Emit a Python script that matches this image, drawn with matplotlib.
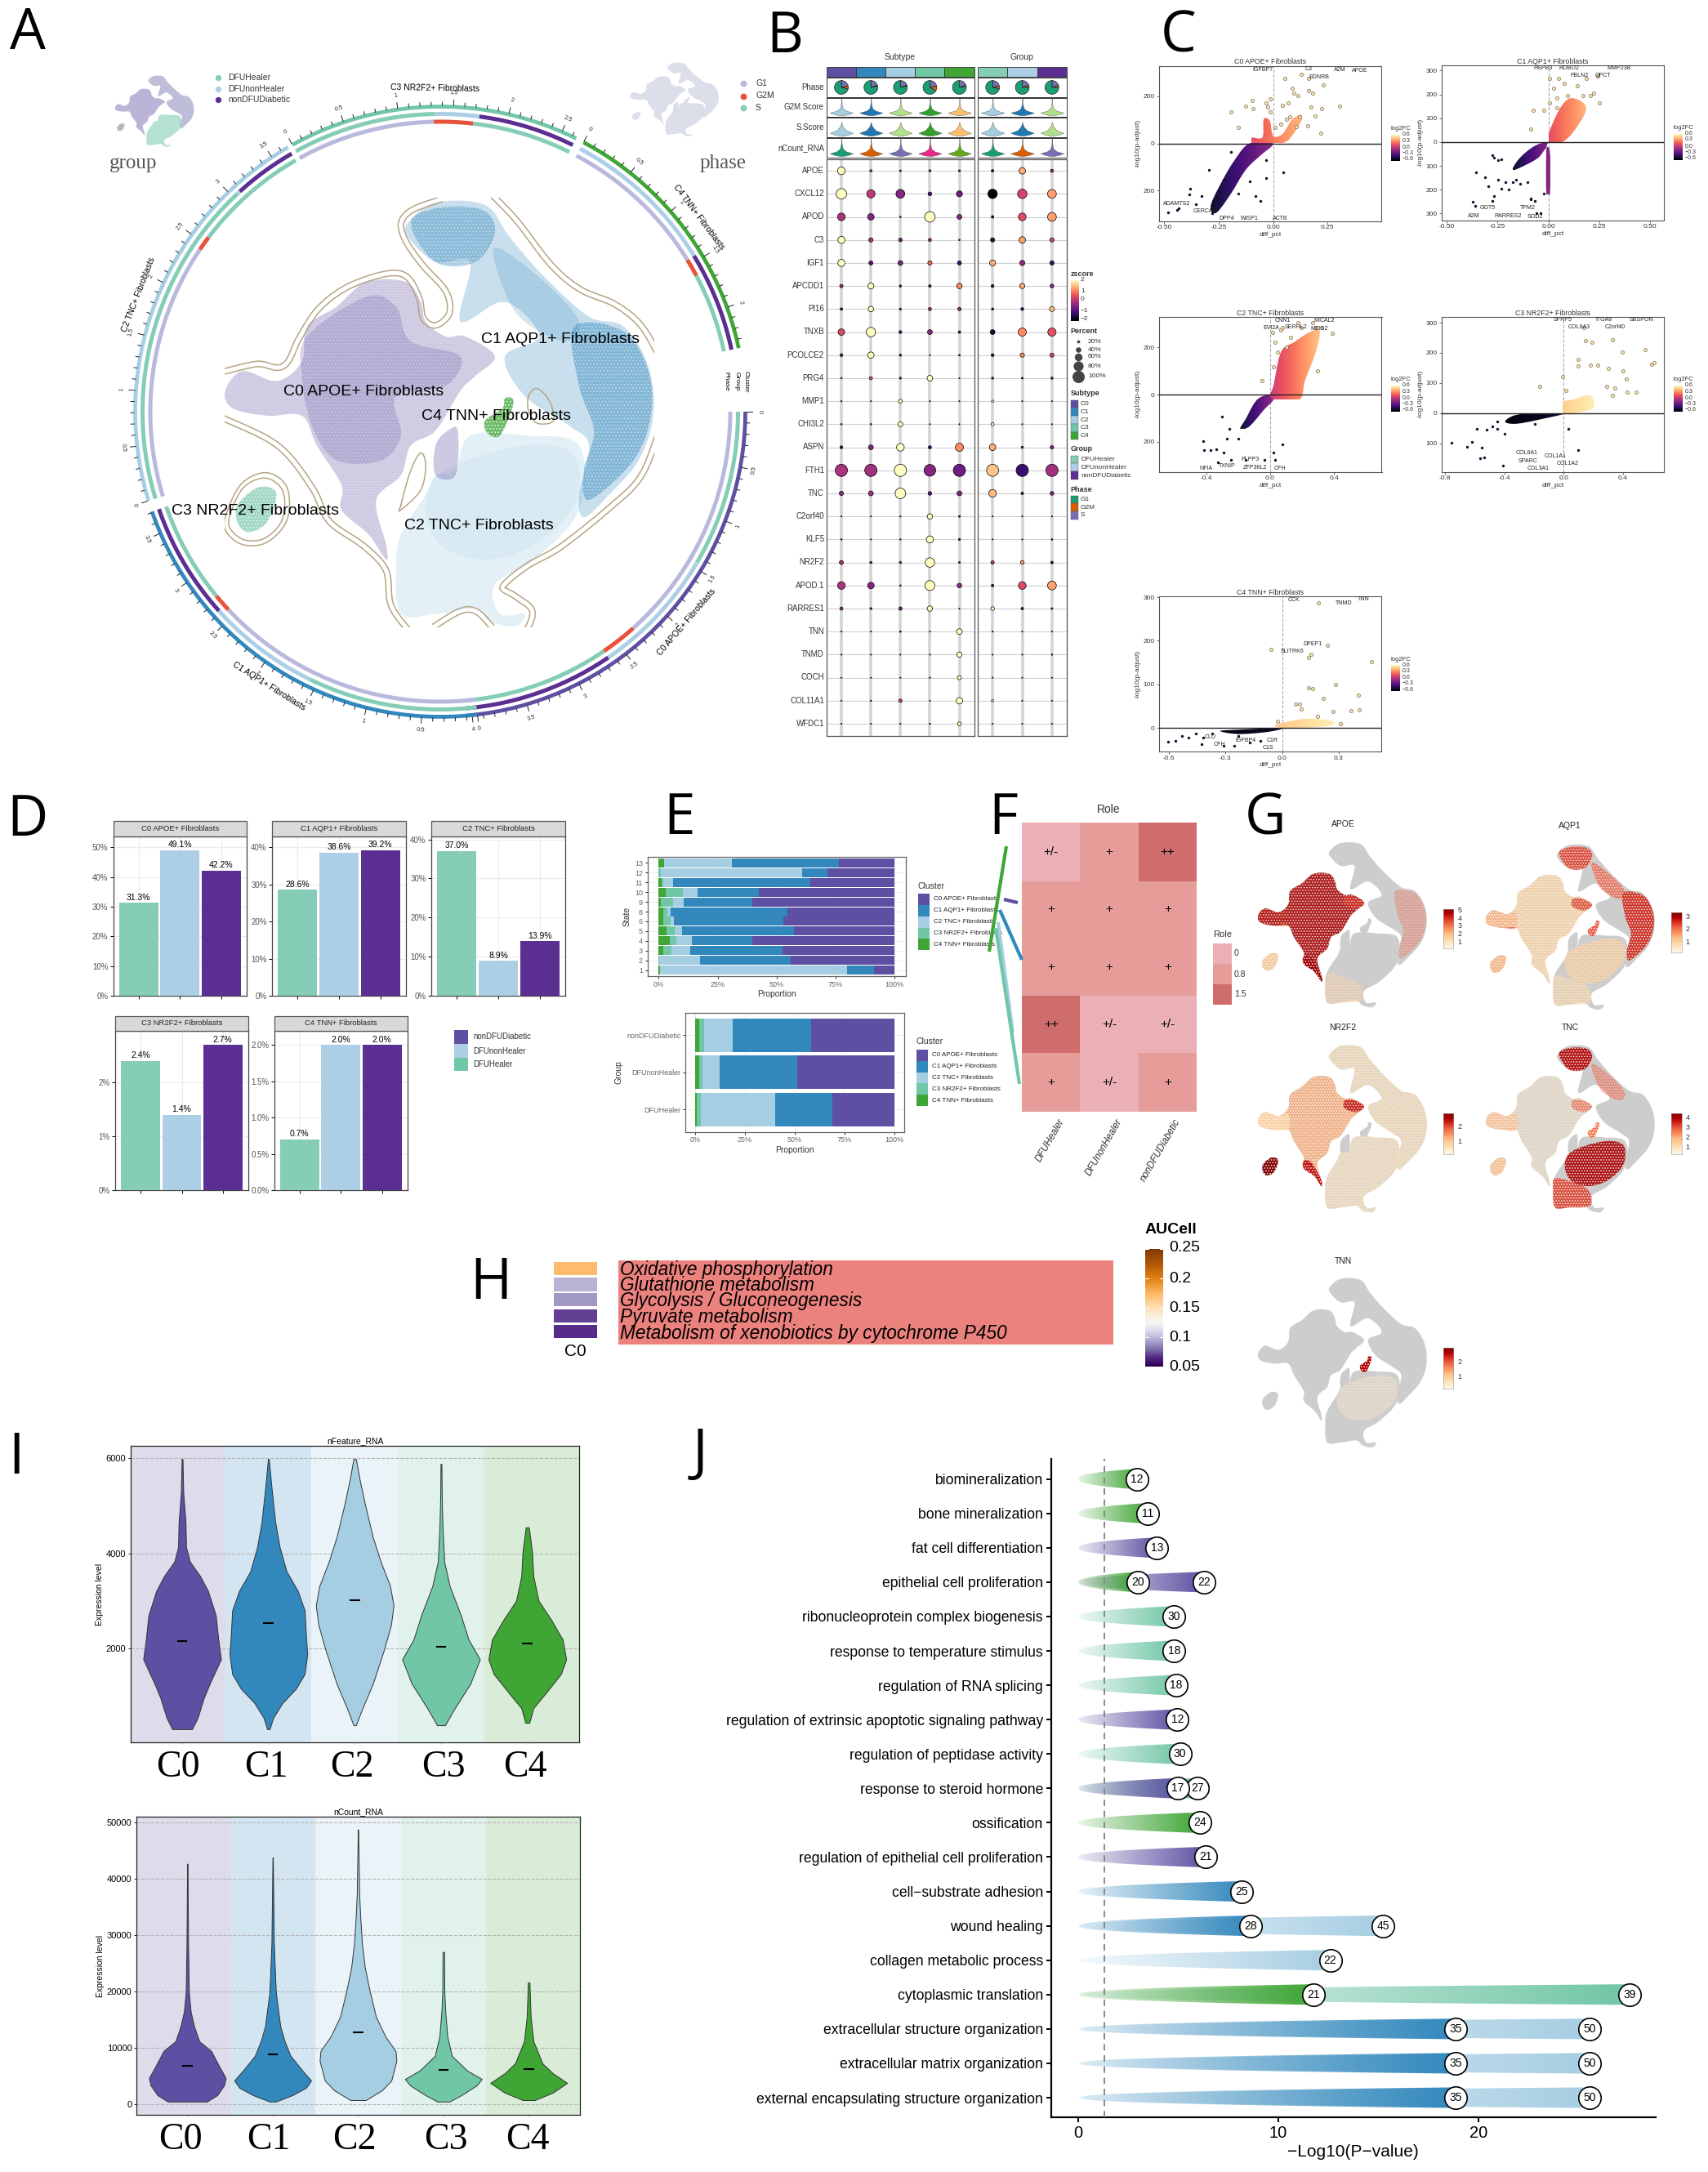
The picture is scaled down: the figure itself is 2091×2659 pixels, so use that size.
import numpy as np
import matplotlib
matplotlib.use('Agg')
import matplotlib.pyplot as plt
from matplotlib.patches import Polygon, PathPatch, Rectangle
from matplotlib.path import Path
from matplotlib.colors import TwoSlopeNorm, LinearSegmentedColormap, ListedColormap

plt.rcParams['font.family'] = ['Liberation Sans', 'DejaVu Sans']
plt.rcParams['hatch.linewidth'] = 0.7
plt.rcParams['axes.unicode_minus'] = True

W, H = 2091, 2659
C_COL = ['#5E4FA2', '#3288BD', '#A6CEE3', '#70C6A5', '#3FA535']
G_COL = ['#85CDB7', '#ADCFE5', '#5B2E91']
P_COL = ['#B8B9DC', '#E8513A', '#85CDB7']
CLUSTERS = ['C0 APOE+ Fibroblasts', 'C1 AQP1+ Fibroblasts', 'C2 TNC+ Fibroblasts',
            'C3 NR2F2+ Fibroblasts', 'C4 TNN+ Fibroblasts']
GROUPS = ['DFUHealer', 'DFUnonHealer', 'nonDFUDiabetic']

# ---------- Panel A data: ring tracks (thousand cells)
SEC_START = [0, -83, 197, 119, 62]
SEC_LEN = [4.05, 3.71, 3.67, 2.64, 2.38]
SEC_TICKMAX = [3.5, 3.5, 3.5, 2.5, 2.0]
PHASE_EDGES = [[0, 2.3, 2.65, 4.05], [0, 2.57, 2.74, 3.71], [0, 2.43, 2.57, 3.67], [0, 1.32, 1.69, 2.64], [0, 1.45, 1.62, 2.38]]
GROUP_EDGES = [[0, 1.45, 2.65, 4.05], [0, 1.57, 2.62, 3.71], [0, 3.05, 3.08, 3.67], [0, 1.33, 1.74, 2.64], [0, 0, 1.45, 2.38]]
SEC_LABEL_ANG = [-40.5, -122, 158.8, 91, 37]
SEC_LABEL_ROT = [49.5, -32, 69, -1, -53]

# UMAP outlines (plot units)
U_C0 = [(455,790),(490,750),(560,770),(610,730),(620,660),(680,620),(740,570),(820,570),(850,610),(860,650),(900,680),(940,680),(1000,720),(960,760),(930,790),(880,870),(830,900),(810,960),(760,1010),(780,1100),(780,1130),(745,1080),(690,1030),(690,980),(640,900),(610,840),(540,840),(470,825)]
U_C0_B = [(880,900),(905,870),(925,870),(920,960),(880,960)]
U_C1 = [(825,450),(880,410),(980,415),(1030,480),(1100,560),(1190,640),(1260,660),(1310,740),(1320,840),(1290,930),(1230,1000),(1180,1045),(1170,1000),(1190,900),(1150,860),(1060,800),(1020,720),(1090,680),(1020,610),(930,650),(950,530),(880,530),(825,480)]
U_C2 = [(950,880),(1060,880),(1170,900),(1170,1030),(1080,1130),(1000,1180),(1010,1240),(1060,1240),(1040,1265),(990,1255),(960,1230),(880,1240),(810,1240),(800,1150),(810,1080),(860,1000),(880,960),(920,950)]
U_C3 = [(480,1020),(520,985),(555,990),(555,1020),(535,1060),(500,1075),(480,1055)]
U_C4 = [(1020,805),(1035,805),(1035,825),(1010,880),(985,875),(980,850),(1015,825)]
U_C0_CORE = [(620,680),(740,600),(800,620),(830,690),(930,720),(900,780),(800,800),(810,880),(770,930),(680,930),(630,860),(610,760)]
U_C1_TOP = [(830,450),(890,420),(975,425),(1000,470),(960,530),(880,530)]
U_C1_RIGHT = [(1160,660),(1260,670),(1310,750),(1315,840),(1280,930),(1190,1010),(1180,950),(1200,870),(1170,780)]
U_C1_MID = [(1000,500),(1100,570),(1170,650),(1140,690),(1060,650),(1020,590)]
U_C2_CORE = [(900,950),(1060,900),(1160,920),(1160,1020),(1080,1100),(980,1130),(890,1100),(860,1020)]
U_C2_LOW = [(810,1090),(900,1110),(980,1150),(990,1230),(880,1240),(810,1240),(800,1150)]
U_ARM = [(455,790),(490,750),(560,770),(610,760),(610,840),(540,840),(470,825)]
U_TAIL = [(690,1000),(730,1010),(780,1100),(780,1130),(745,1080),(690,1040)]
U_BRANCH = [(900,690),(950,690),(1000,720),(960,750),(900,730)]
LINE_1 = [(453,745),(520,730),(570,735),(600,680),(640,620),(700,575),(780,548),(825,555),(852,600),(860,640),(880,652),(903,630),(895,590),(850,540),(815,490),(805,450),(830,420),(890,398)]
LINE_2 = [(990,398),(1040,450),(1110,540),(1170,590),(1240,620),(1290,660),(1325,718)]
LINE_3 = [(1325,875),(1290,960),(1230,1020),(1130,1100),(1060,1140),(1010,1185),(1040,1210),(1070,1235),(1060,1270)]
LINE_4 = [(990,1270),(960,1240),(930,1240),(880,1270)]
LINE_5 = [(830,1270),(795,1220),(785,1150),(740,1100),(670,1050),(640,990),(590,920),(540,880),(453,840)]
LOOP_1 = [(460,1030),(490,975),(540,955),(580,985),(580,1050),(540,1095),(490,1100),(455,1070)]
LOOP_2 = [(810,1020),(830,950),(850,915),(860,940),(850,990),(810,1030)]
LOOP_3 = [(1068,800),(1085,785),(1110,810),(1118,850),(1085,855),(1068,830)]

# ---------- Panel B data
GENES = ['APOE','CXCL12','APOD','C3','IGF1','APCDD1','PI16','TNXB','PCOLCE2','PRG4','MMP1','CHI3L2','ASPN','FTH1','TNC','C2orf40','KLF5','NR2F2','APOD.1','RARRES1','TNN','TNMD','COCH','COL11A1','WFDC1']
Z_SUB = [[2,-.3,-1.2,-.6,-.5],[2,.1,-.5,-1,-.7],[-.1,-.5,-1,2,-.4],[2,-.1,-.6,-.2,-1],[2,-.9,-.5,.7,-1.1],[-.3,2,-1.3,-1.2,1],[-1,2,-1.3,-.2,-.3],[.4,2,-1,-.4,-1],[-.8,2,-1.2,-1.3,-1.3],[-1,.5,-1.2,2,-1.3],[-1.3,-1.3,2,-1.3,-1.3],[-1.3,-1.2,2,-1.3,-1.3],[-1.3,-.5,2,-1.2,1],[-.1,-.2,2,-.5,-.7],[-.4,-.2,2,-.9,-.5],[-1.3,-1.3,-1.3,2,-1],[-1.3,-1.3,-1.3,2,-1.1],[-.1,-1,-.6,2,-1.2],[-.1,-.5,-1,2,-.4],[-.4,-1.2,-.6,2,-1.3],[-1.3,-1.3,-1.2,-1.3,2],[-1.3,-1.3,-1.3,-1.3,2],[-1.3,-1.3,-1.3,-1.3,2],[-1.3,-1.2,.3,-1.3,2],[-1.3,-1.3,-1.3,-1.2,2]]
P_SUB = [[60,12,8,12,10],[85,65,70,25,45],[60,50,5,85,35],[55,30,25,20,5],[55,28,35,30,28],[22,45,12,15,40],[15,40,10,20,22],[50,75,18,35,15],[18,48,12,2,6],[5,20,10,42,2],[3,2,25,2,2],[5,5,35,2,2],[18,35,60,20,65],[100,100,100,95,100],[30,35,85,25,35],[2,2,3,40,8],[5,2,3,55,10],[28,12,12,75,8],[60,50,5,80,33],[20,10,22,40,2],[2,2,6,2,42],[2,2,2,2,38],[2,2,2,3,28],[2,4,22,2,50],[2,2,2,4,25]]
Z_GRP = [[-1.5,1.3,-.3],[-1.9,.3,1.2],[-1.5,.4,1.2],[-1.5,1.2,.3],[1.3,-.4,-1.2],[-1.3,1.3,-.5],[-1.5,-1.2,1.5],[-1.6,1,.5],[-1.4,1,.3],[-.5,-1.2,-.8],[2,-1.3,-1.3],[2,-1.3,-1.3],[1.3,-1.2,-.6],[1.5,-1.2,-.2],[1.4,-1.1,-.5],[-1.3,-1.3,-1.3],[-1.3,-1.3,-1.3],[0,1.2,-1.5],[-1.5,.4,1.2],[2,-1.2,-1.2],[-1.3,-1.3,-1.3],[-1.3,-1.3,-1.3],[-1.3,-1.3,-1.3],[2,-1.3,-1.3],[-1.3,-1.3,-1.3]]
P_GRP = [[15,50,20],[75,75,70],[15,60,70],[30,50,30],[45,38,30],[18,38,25],[12,18,35],[35,65,65],[18,30,28],[12,8,12],[12,2,2],[20,2,2],[50,12,22],[98,100,100],[60,15,25],[2,2,3],[2,2,6],[22,25,15],[15,60,70],[25,15,8],[3,2,2],[2,2,4],[2,2,2],[12,2,2],[2,2,2]]
PIE_S = [.22,.20,.20,.22,.20,.22,.20,.20]
PIE_G2M = [.07,.02,.02,.12,.03,.06,.05,.05]
VIOLIN_G2M = [.95,.95,.95,.75,.95,.95,.95,.95]
PAIRED = ['#A6CEE3','#1F78B4','#B2DF8A','#33A02C','#FDBF6F']
DARK2 = ['#1B9E77','#D95F02','#7570B3','#E7298A','#66A61E']

# ---------- Panel C data: (diff_pct, -log10 p-adjust)
V0_POS = [(-.194,133),(-.16,67),(-.126,157),(-.095,184),(-.092,149),(-.015,188),(-.024,153),(-.015,133),(.053,275),(.129,292),(.163,275),(.095,214),(.112,204),(.163,224),(.18,214),(.231,249),(.175,153),(.223,149),(.194,116),(.304,157),(.218,45),(.158,76),(.087,235),(.044,163),(.07,173),(.078,112),(.121,112),(.107,71),(.036,82),(.061,102),(.01,67),(-.032,173)]
V0_NEG = [(-.381,-194),(-.384,-218),(-.432,-275),(-.483,-292),(-.44,-282),(-.355,-259),(-.33,-224),(-.296,-112),(-.194,-37),(-.032,-71),(-.109,-163),(-.083,-224),(-.058,-245),(-.032,-149),(.048,-122),(-.16,-214),(-.228,-153),(-.253,-235),(-.262,-265),(-.279,-296)]
V0_BP = [(-.1,2),(0,2),(.044,2),(.078,22),(.129,94),(.129,122),(.087,102),(.044,41),(0,31),(-.015,96),(-.044,102),(-.049,25),(-.1,25)]
V0_BN = [(-.109,0),(0,0),(-.058,-51),(-.126,-112),(-.194,-214),(-.262,-296),(-.287,-265),(-.236,-163),(-.177,-71)]
V1_POS = [(-.076,135),(-.022,135),(-.085,54),(.005,266),(.051,266),(.024,225),(.078,245),(.142,235),(.187,266),(.224,205),(.251,165),(.042,185),(.096,195),(.169,195),(.205,195),(.005,165),(.042,145),(.242,276)]
V1_NEG = [(-.249,-76),(-.276,-56),(-.313,-147),(-.295,-187),(-.267,-66),(-.231,-72),(-.358,-127),(-.249,-157),(-.213,-167),(-.176,-167),(-.14,-177),(-.085,-237),(-.067,-247),(-.085,-241),(-.373,-252),(-.362,-268),(-.276,-247),(-.267,-227),(-.231,-197),(-.195,-201),(-.158,-157),(-.104,-167),(-.022,-217),(-.058,-298),(-.04,-300)]
V1_BP = [(0,0),(.005,44),(.06,145),(.115,185),(.187,145),(.133,54),(.069,0)]
V1_BN = [(0,0),(-.067,-16),(-.14,-66),(-.176,-117),(-.113,-97),(-.049,-66),(.005,-26),(.008,-220),(-.01,-220),(-.01,-30)]
V2_POS = [(-.053,59),(.021,120),(.032,222),(.067,273),(.125,243),(.194,284),(.263,304),(.321,284),(.386,259),(.287,284),(.294,100),(.044,182),(.102,202),(.171,304),(.079,284),(.014,263)]
V2_NEG = [(-.418,-196),(-.414,-237),(-.372,-237),(-.338,-233),(-.291,-247),(-.326,-288),(-.245,-278),(-.303,-94),(-.257,-145),(-.153,-278),(-.037,-278),(.021,-247),(.079,-212),(.032,-278),(-.268,-186),(-.199,-186)]
V2_BP = [(0,0),(.021,39),(.067,182),(.148,222),(.24,263),(.309,273),(.286,182),(.217,59),(.183,-22),(.032,-22)]
V2_BN = [(0,0),(-.083,-22),(-.153,-104),(-.187,-145),(-.129,-135),(-.037,-63),(.021,-22)]
V3_POS = [(-.158,90),(-.005,121),(.018,76),(.1,179),(.1,156),(.148,240),(.195,235),(.18,159),(.23,159),(.305,148),(.33,244),(.398,203),(.4,140),(.423,114),(.43,71),(.493,71),(.55,211),(.593,163),(.613,168),(.345,83),(.293,89),(.14,283),(.33,60)]
V3_NEG = [(-.758,-98),(-.65,-110),(-.62,-95),(-.55,-114),(-.583,-51),(-.52,-54),(-.483,-43),(-.445,-51),(-.395,-67),(-.445,-27),(-.563,-149),(-.533,-146),(-.408,-173),(.1,-122),(.03,-51),(-.195,-35)]
V3_BP = [(0,0),(-.008,37),(.055,44),(.18,60),(.205,21),(.13,5)]
V3_BN = [(0,0),(-.295,-3),(-.395,-27),(-.32,-35),(-.145,-19)]
V4_POS = [(-.059,181),(.142,161),(.156,169),(.24,190),(.191,287),(.476,153),(.14,92),(.161,90),(.22,68),(.283,99),(.407,75),(.368,39),(.41,41),(.073,54),(.093,54),(.102,43),(.19,26),(.27,37),(.309,10),(-.022,15)]
V4_NEG = [(-.606,-31),(-.567,-29),(-.533,-18),(-.498,-23),(-.459,-12),(-.429,-37),(-.419,-23),(-.37,-12),(-.311,-40),(-.252,-40),(-.173,-34),(-.114,-29),(-.232,-18)]
V4_BP = [(0,0),(-.035,7),(.122,21),(.28,15),(.24,4),(.063,0)]
V4_BN = [(0,0),(-.232,-4),(-.33,-7),(-.232,-14),(-.075,-9)]
VOLC_LABELS = [
 [('IGFBP7',365,111),('C3',491,110),('A2M',575,112),('APOE',629,113),('EDNRB',517,127),('ADAMTS2',134,391),('CERCAM',211,406),('DPP4',268,421),('WISP1',330,421),('ACTB',412,421)],
 [('HSPB3',1122,108),('ROBO2',1192,108),('MMP23B',1327,108),('FBLN2',1222,123),('QPCT',1284,123),('GGT5',972,400),('TPM2',1081,400),('A2M',935,416),('RARRES2',1027,416),('SOD2',1102,418)],
 [('CNN1',419,634),('MICAL2',531,635),('EVI2A',388,650),('SERHL2',455,648),('MEIS2',518,651),('NFIA',213,943),('TXNIP',270,938),('PLPP3',333,924),('ZFP36L2',346,941),('CFH',412,943)],
 [('SFRP5',1175,633),('ITGA8',1287,633),('SBSPON',1389,633),('COL9A3',1220,649),('C2orf40',1316,649),('COL6A1',1078,911),('COL1A1',1155,917),('SPARC',1081,928),('COL1A2',1188,933),('COL3A1',1110,943)],
 [('CCK',451,1217),('TNN',637,1216),('TNMD',584,1224),('DPEP1',501,1309),('SLITRK6',445,1324),('CLU',224,1503),('IGFBP4',320,1510),('C1R',392,1510),('CFH',248,1518),('C1S',380,1526)]]

# ---------- Panel D data
D_VALS = [[31.3,49.1,42.2],[28.6,38.6,39.2],[37.0,8.9,13.9],[2.4,1.4,2.7],[0.7,2.0,2.0]]
D_TOPS = [53.8,43,40.8,2.97,2.2]
D_TICKS = [[0,10,20,30,40,50],[0,10,20,30,40],[0,10,20,30,40],[0,1,2],[0,.5,1,1.5,2]]

# ---------- Panel E data
STATES = ['13','12','11','10','9','8','6','5','4','3','2','1']
E_C4 = [2.4,0,1.2,2.8,1,2,2,3.4,4.8,1.9,0,.7]
E_C3 = [0,.8,.8,7.4,5.2,1.8,3.2,3.3,2.8,3.6,.3,0]
E_C2 = [28.8,60.1,4,6.2,4.5,1.2,1.2,3.3,6.4,7.8,17.3,79.3]
E_C1 = [45.2,10.8,58.3,26.2,29.1,49.5,46.4,47.4,25.7,39.3,38.4,11.4]
E_C0 = [23.6,28.3,35.7,57.4,60.2,45.5,47.2,42.6,60.3,47.4,44,8.6]
EG_NAMES = ['nonDFUDiabetic','DFUnonHealer','DFUHealer']
EG_C4 = [2.2,2,.8]
EG_C3 = [2.5,1.5,2.2]
EG_C2 = [14.1,8.9,37.2]
EG_C1 = [39.2,38.8,28.8]
EG_C0 = [42,48.8,31]

# ---------- Panel F data
ROLE_VALS = [[0,.8,1.5],[.8,.8,.8],[.8,.8,.8],[1.5,0,0],[.8,0,.8]]
ROLE_TXT = [['+/-','+','++'],['+','+','+'],['+','+','+'],['++','+/-','+/-'],['+','+/-','+']]

# ---------- Panel H data
H_TERMS = ['Oxidative phosphorylation','Glutathione metabolism','Glycolysis / Gluconeogenesis','Pyruvate metabolism','Metabolism of xenobiotics by cytochrome P450']
H_AUC = [.172,.098,.09,.07,.066]

# ---------- Panel I data: (value, half width of violin)
F_V = [
 [(308,.115),(544,.18),(954,.25),(1262,.32),(1774,.45),(2185,.42),(2697,.39),(3210,.3),(3518,.21),(3826,.09),(4133,.046),(4646,.04),(5262,.014),(5979,.005)],
 [(308,.014),(544,.055),(851,.16),(1159,.32),(1467,.42),(1877,.45),(2287,.435),(2800,.42),(3210,.34),(3620,.21),(4133,.13),(4646,.08),(5364,.037),(5979,.005)],
 [(390,.014),(749,.09),(1262,.21),(1979,.34),(2492,.42),(2903,.45),(3313,.41),(3826,.3),(4338,.21),(5056,.115),(5569,.055),(5979,.014)],
 [(390,.046),(749,.16),(1262,.34),(1774,.45),(2185,.32),(2697,.23),(3313,.1),(3826,.037),(4544,.018),(5159,.009),(5877,.005)],
 [(441,.023),(749,.07),(1056,.21),(1467,.39),(1774,.45),(2185,.41),(2595,.28),(3005,.13),(3518,.07),(4031,.055),(4544,.018)]]
F_MED = [2164,2543,3015,2031,2103]
N_V = [
 [(522,.23),(1652,.35),(3391,.43),(4696,.45),(6870,.37),(9478,.28),(11218,.14),(13826,.08),(16435,.04),(19913,.018),(28609,.009),(37305,.005),(42696,.002)],
 [(522,.037),(1652,.23),(2957,.39),(4261,.45),(6000,.35),(8609,.21),(11218,.14),(13826,.09),(19913,.037),(28609,.014),(37305,.007),(43826,.002)],
 [(783,.09),(2522,.28),(4261,.39),(7739,.45),(9478,.44),(12087,.32),(15566,.21),(19913,.14),(24261,.08),(28609,.046),(32957,.028),(37305,.014),(48785,.002)],
 [(522,.07),(1652,.21),(3391,.39),(4522,.45),(6000,.28),(8609,.1),(12087,.046),(16435,.023),(19913,.012),(27043,.009)],
 [(783,.07),(2087,.28),(3826,.45),(5565,.28),(7304,.16),(11218,.055),(15566,.023),(21653,.009)]]
N_MED = [6870,8870,12783,6087,6261]
BAND = ['#DEDBEA','#D3E5F1','#EAF3F8','#E0F2EB','#D9ECD7']

# ---------- Panel J data (bottom to top)
J_TERMS = ['external encapsulating structure organization','extracellular matrix organization','extracellular structure organization','cytoplasmic translation','collagen metabolic process','wound healing','cell\u2212substrate adhesion','regulation of epithelial cell proliferation','ossification','response to steroid hormone','regulation of peptidase activity','regulation of extrinsic apoptotic signaling pathway','regulation of RNA splicing','response to temperature stimulus','ribonucleoprotein complex biogenesis','epithelial cell proliferation','fat cell differentiation','bone mineralization','biomineralization']
J_END = [[25.55,18.88],[25.55,18.88],[25.55,18.88],[27.54,11.74],[12.6],[15.24,8.63],[8.17],[6.38],[6.08],[5.98,4.99],[5.09],[4.96],[4.89],[4.79],[4.79],[6.28,2.98],[3.93],[3.47],[2.94]]
J_N = [[50,35],[50,35],[50,35],[39,21],[22],[45,28],[25],[21],[24],[27,17],[30],[12],[18],[18],[30],[22,20],[13],[11],[12]]
J_CL = [[2,1],[2,1],[2,1],[3,4],[2],[2,1],[1],[0],[4],[3,0],[3],[0],[3],[3],[3],[0,4],[0],[4],[4]]

# ---------- helpers
fig = plt.figure(figsize=(W/100, H/100), dpi=100, facecolor='white')
def axpx(x0, y0, x1, y1, **kw):
    return fig.add_axes([x0/W, 1-y1/H, (x1-x0)/W, (y1-y0)/H], **kw)
bg = axpx(0, 0, W, H, zorder=20)
bg.set_xlim(0, W); bg.set_ylim(H, 0); bg.axis('off'); bg.patch.set_alpha(0)
def T(x, y, s, fs=7, ha='left', va='center', **kw):
    return bg.text(x, y, s, fontsize=fs, ha=ha, va=va, **kw)
def R(x0, y0, x1, y1, c, **kw):
    bg.add_patch(Rectangle((x0, y0), x1-x0, y1-y0, facecolor=c, edgecolor=kw.pop('ec', 'none'), lw=kw.pop('lw', 0), **kw))
def smooth(pts, closed=True, n=10):
    p = np.array(pts, float)
    m = len(p)
    out = []
    rng = range(m) if closed else range(m-1)
    for i in rng:
        if closed:
            p0, p1, p2, p3 = p[(i-1) % m], p[i], p[(i+1) % m], p[(i+2) % m]
        else:
            p0, p1, p2, p3 = p[max(i-1, 0)], p[i], p[i+1], p[min(i+2, m-1)]
        for t in np.linspace(0, 1, n, endpoint=False):
            out.append(.5*((2*p1)+(-p0+p2)*t+(2*p0-5*p1+4*p2-p3)*t*t+(-p0+3*p1-3*p2+p3)*t**3))
    if not closed:
        out.append(p[-1])
    return np.array(out)
def blob(ax, pts, c, a=1.0, hatch=None, z=2):
    v = smooth(pts)
    ax.add_patch(Polygon(v, closed=True, facecolor=c, edgecolor='white' if hatch else 'none', lw=0, alpha=a, hatch=hatch, zorder=z))
def umap_ax(x0, y0, x1, y1):
    ax = axpx(x0, y0, x1, y1)
    ax.set_xlim(453, 1322); ax.set_ylim(1267, 400); ax.axis('off')
    return ax
ALL_U = [U_C0, U_C0_B, U_C1, U_C2, U_C3, U_C4]

# ---------- A
ring = fig.add_axes([139/W, 1-904/H, 800/W, 800/H], projection='polar', zorder=3)
ring.set_ylim(0, 400); ring.axis('off')
def arc(st, v0, v1, r, c, lw=3.6):
    th = np.radians(st-np.linspace(v0, v1, 40)*21)
    ring.plot(th, np.full(40, r), color=c, lw=lw, solid_capstyle='butt')
for i in range(5):
    st = SEC_START[i]; L = SEC_LEN[i]
    arc(st, 0, L, 373.5, C_COL[i], 3.4)
    for j in range(3):
        arc(st, GROUP_EDGES[i][j], GROUP_EDGES[i][j+1], 364.5, G_COL[j])
        arc(st, PHASE_EDGES[i][j], PHASE_EDGES[i][j+1], 355, P_COL[j])
    for v in np.arange(0, L+.001, .1):
        major = abs(v/.5-round(v/.5)) < .01
        th = np.radians(st-v*21)
        ring.plot([th, th], [375, 382 if major else 379], color='#222', lw=.7)
        if major:
            ang = st-v*21
            rot = (ang-90+90) % 180-90
            ring.text(th, 391, ('%g' % v), fontsize=5.5, ha='center', va='center', rotation=rot, rotation_mode='anchor', color='#333')
    ring.text(np.radians(SEC_LABEL_ANG[i]), 396, CLUSTERS[i], fontsize=7.5, ha='center', va='center', rotation=SEC_LABEL_ROT[i], rotation_mode='anchor')
for k, s in zip([913, 902, 889], ['Cluster', 'Group', 'Phase']):
    T(k, 467, s, fs=6, ha='center', rotation=-90)

ua = umap_ax(274.5, 242, 801, 768)
blob(ua, U_C2, C_COL[2], .32, '.....')
blob(ua, U_C2_CORE, C_COL[2], .18)
blob(ua, U_C1, C_COL[1], .28, '.....')
blob(ua, U_C1_TOP, C_COL[1], .4, '....')
blob(ua, U_C1_RIGHT, C_COL[1], .45, '....')
blob(ua, U_C1_MID, C_COL[1], .2)
blob(ua, U_C0, C_COL[0], .3, '.....')
blob(ua, U_C0_CORE, C_COL[0], .25, '....')
blob(ua, U_C0_B, C_COL[0], .3)
blob(ua, U_C3, C_COL[3], .65, '....')
blob(ua, U_C4, C_COL[4], .75, '....')
for ln, side in [(LINE_1, 1), (LINE_2, -1), (LINE_3, -1), (LINE_4, 1), (LINE_5, -1)]:
    c = smooth(ln, closed=False)
    d = np.gradient(c, axis=0)
    nrm = np.c_[-d[:, 1], d[:, 0]]/np.maximum(np.hypot(d[:, 0], d[:, 1]), 1e-6)[:, None]
    ua.plot(c[:, 0], c[:, 1], color='#B5A583', lw=1.1)
    o = c+side*nrm*11
    ua.plot(o[:, 0], o[:, 1], color='#B5A583', lw=1.1)
for lp, scales in [(LOOP_1, (1, .86)), (LOOP_2, (1,)), (LOOP_3, (1,))]:
    base = smooth(lp)
    cen = base.mean(0)
    for s in scales:
        q = cen+(base-cen)*s
        q = np.r_[q, q[:1]]
        ua.plot(q[:, 0], q[:, 1], color='#B5A583', lw=1.1)
for s, x, y in [('C1 AQP1+ Fibroblasts', 589, 415), ('C0 APOE+ Fibroblasts', 347, 479), ('C4 TNN+ Fibroblasts', 516, 510), ('C3 NR2F2+ Fibroblasts', 210, 625), ('C2 TNC+ Fibroblasts', 495, 643)]:
    T(x, y, s, fs=14)

gm = umap_ax(140.6, 92, 237.6, 180)
blob(gm, U_C2, G_COL[0], .6); blob(gm, U_C1, '#7F7FB5', .5); blob(gm, U_C0, '#8D83BD', .6); blob(gm, U_C3, '#9A9A9A', .7)
pm = umap_ax(771, 76, 880, 167)
for u in ALL_U:
    blob(pm, u, '#C5C9DD', .6)
T(163, 200, 'group', fs=18, ha='center', family='Liberation Serif', color='#555555')
T(885, 200, 'phase', fs=18, ha='center', family='Liberation Serif', color='#555555')
for y, s, c in zip([95, 109, 122], GROUPS, G_COL):
    bg.scatter([266.6], [y], s=28, color=c, lw=0)
    T(279, y, s, fs=7.5, color='#333333')
for y, s, c in zip([102, 117.5, 132], ['G1', 'G2M', 'S'], P_COL):
    bg.scatter([910], [y], s=32, color=c, lw=0)
    T(925, y, s, fs=7.5, color='#333333')

# ---------- B
def dots_panel(x0, x1, Z, P, n):
    ax = axpx(x0, 195, x1, 901)
    ax.set_xlim(.5, n+.5); ax.set_ylim(24.53, -.5)
    for r in range(25):
        ax.axhline(r, color='#CFCFCF', lw=.8, zorder=1)
    for c in range(n):
        ax.axvline(c+1, color='#D4D4D4', lw=2.6, zorder=1)
    xs, ys, zs, ss = [], [], [], []
    for r in range(25):
        for c in range(n):
            xs.append(c+1); ys.append(r); zs.append(Z[r][c])
            ss.append(((1+P[r][c]*.14)*.72)**2)
    ax.scatter(xs, ys, c=zs, s=ss, cmap='magma', vmin=-2, vmax=2, edgecolor='black', lw=.5, zorder=3)
    ax.set_xticks([]); ax.set_yticks([])
    for s in ax.spines.values():
        s.set_color('#555555'); s.set_linewidth(.9)
    return ax
dots_panel(1012, 1192.6, Z_SUB, P_SUB, 5)
dots_panel(1197, 1306, Z_GRP, P_GRP, 3)
for r, g in enumerate(GENES):
    T(1009, 209+r*28.2, g, fs=7, ha='right', color='#333333')
def strip(x0, x1, cols):
    w = (x1-x0)/len(cols)
    for i, c in enumerate(cols):
        R(x0+i*w, 82, x0+(i+1)*w, 94, c, ec='#333333', lw=.6)
strip(1012, 1192.6, C_COL); strip(1197, 1306, G_COL)
T(1102, 70, 'Subtype', fs=7.5, ha='center', color='#333333')
T(1251, 70, 'Group', fs=7.5, ha='center', color='#333333')
PROFILE_Y = [.08, .14, .22, .32, .45, .7, .97]
PROFILE_W = [.05, .25, .39, .16, .05, .012, .006]
for (x0, x1, n, off) in [(1012, 1192.6, 5, 0), (1197, 1306, 3, 5)]:
    for row, (y0, y1, name, cols, yscale) in enumerate([(120, 143, 'G2M.Score', PAIRED, .85), (144, 168, 'S.Score', PAIRED, .6), (169, 193, 'nCount_RNA', DARK2, 1.0)]):
        ax = axpx(x0, y0, x1, y1)
        ax.set_xlim(.5, n+.5); ax.set_ylim(0, 1); ax.set_xticks([]); ax.set_yticks([])
        for c in range(n):
            py = np.array(PROFILE_Y)*(1 if row != 1 else .95)
            wd = np.array(PROFILE_W)
            py2 = np.array(PROFILE_Y)
            if row == 1: py2 = py2*np.array([1, 1, 1, 1.1, 1.2, 1, .8])
            ax.fill_betweenx(py2, c+1-wd, c+1+wd, color=cols[c % 5], lw=.3, edgecolor='#555555')
        for s in ax.spines.values():
            s.set_color('#333333'); s.set_linewidth(.7)
        if off == 0:
            T(1009, (y0+y1)/2, name, fs=7, ha='right', color='#333333')
    # phase row
    box = axpx(x0, 95, x1, 119); box.set_xticks([]); box.set_yticks([])
    for s in box.spines.values():
        s.set_color('#333333'); s.set_linewidth(.7)
    w = (x1-x0)/n
    for c in range(n):
        cx = x0+(c+.5)*w
        pa = axpx(cx-10, 97, cx+10, 117, zorder=5)
        sv, gv = PIE_S[c+off], PIE_G2M[c+off]
        pa.pie([sv, gv, 1-sv-gv], colors=['#7570B3', '#D95F02', '#1B9E77'], startangle=90, counterclock=False,
               radius=1.05, wedgeprops=dict(edgecolor='#222222', lw=.5))
T(1009, 107, 'Phase', fs=7, ha='right', color='#333333')
# B legends
T(1310.6, 335, 'zscore', fs=6.5, fontweight='bold', color='#333333')
cb = axpx(1310.6, 343, 1320, 393)
cb.imshow(np.linspace(1, 0, 256)[:, None], cmap='magma', aspect='auto'); cb.set_xticks([]); cb.set_yticks([])
for s in cb.spines.values():
    s.set_visible(False)
for y, s in zip([343, 356, 367, 380, 391], ['2', '1', '0', '\u22121', '\u22122']):
    T(1323, y, s, fs=6, color='#333333')
T(1310.6, 405, 'Percent', fs=6.5, fontweight='bold', color='#333333')
for y, p, s in zip([418, 428, 437, 448, 461], [20, 40, 60, 80, 100], ['20%', '40%', '60%', '80%', '100%']):
    bg.scatter([1320], [y], s=((1+p*.14)*.72)**2, color='#444444', lw=0)
    T(1332, y, s, fs=6, color='#333333')
def block_legend(title, y, names, cols):
    T(1310.6, y, title, fs=6.5, fontweight='bold', color='#333333')
    h = 9.8
    for i, (n, c) in enumerate(zip(names, cols)):
        R(1310.6, y+7.5+i*h, 1320, y+7.5+(i+1)*h, c, ec='#555555', lw=.3)
        T(1323, y+7.5+(i+.5)*h, n, fs=6, color='#333333')
block_legend('Subtype', 482, ['C0', 'C1', 'C2', 'C3', 'C4'], C_COL)
block_legend('Group', 550, GROUPS, G_COL)
block_legend('Phase', 599, ['G1', 'G2M', 'S'], DARK2[:1]+DARK2[1:3])

# ---------- C
def vx(z): return 1380+z*.4534
def vy(z): return 20+z*.587
magma = plt.get_cmap('magma')
def band(ax, poly, t0, t1):
    p = np.array(poly)
    im = ax.imshow(np.linspace(t0, t1, 128)[None, :], cmap='magma', vmin=0, vmax=1, aspect='auto',
                   extent=(p[:, 0].min(), p[:, 0].max(), p[:, 1].min(), p[:, 1].max()), zorder=2, origin='lower')
    im.set_clip_path(Polygon(smooth(poly, n=4), transform=ax.transData))
def volcano(box, title, xl, yl, xt, xfmt, yt, pos, neg, bp, bn, tp=(.62, .85), tn=(.08, .4), tpos=.93):
    ax = axpx(*box)
    band(ax, bn, *tn); band(ax, bp, *tp)
    n = np.array(neg); q = np.array(pos)
    ax.scatter(n[:, 0], n[:, 1], s=6, color='#1a0f2e', lw=0, zorder=3)
    ax.scatter(q[:, 0], q[:, 1], s=9, color=magma(tpos), edgecolor='#555555', lw=.4, zorder=3)
    ax.axhline(0, color='#222222', lw=1, zorder=4)
    ax.axvline(0, color='#AAAAAA', lw=.8, ls='--', zorder=1)
    ax.set_xlim(*xl); ax.set_ylim(*yl)
    ax.set_xticks(xt); ax.set_xticklabels([xfmt % v for v in xt])
    ax.set_yticks(yt); ax.set_yticklabels(['%d' % abs(v) for v in yt])
    ax.tick_params(labelsize=6, length=2, width=.5, pad=1.5, colors='#333333')
    ax.set_xlabel('diff_pct', fontsize=6, labelpad=1, color='#333333')
    ax.set_ylabel('-log10(p-adjust)', fontsize=6, labelpad=2, color='#333333')
    ax.set_title(title, fontsize=6.3, pad=1.5, color='#333333')
    for s in ax.spines.values():
        s.set_color('#555555'); s.set_linewidth(.8)
BOXES = [(1418.5, 80.5, 1691.5, 270.6), (1764.5, 80, 2037.4, 269.5), (1418.5, 388, 1691.5, 577.6), (1764.5, 388, 2037.4, 577.6), (1418.5, 730, 1691.5, 920)]
volcano(BOXES[0], CLUSTERS[0], (-.5255, .498), (-330, 330), [-.5, -.25, 0, .25], '%.2f', [-200, 0, 200], V0_POS, V0_NEG, V0_BP, V0_BN)
volcano(BOXES[1], CLUSTERS[1], (-.527, .57), (-328, 322), [-.5, -.25, 0, .25, .5], '%.2f', [-300, -200, -100, 0, 100, 200, 300], V1_POS, V1_NEG, V1_BP, V1_BN)
volcano(BOXES[2], CLUSTERS[2], (-.696, .696), (-328, 330), [-.4, 0, .4], '%.1f', [-200, 0, 200], V2_POS, V2_NEG, V2_BP, V2_BN, tp=(.55, .88))
volcano(BOXES[3], CLUSTERS[3], (-.825, .68), (-194, 319), [-.8, -.4, 0, .4], '%.1f', [-100, 0, 100, 200, 300], V3_POS, V3_NEG, V3_BP, V3_BN, tp=(.9, .97), tn=(.02, .08))
volcano(BOXES[4], CLUSTERS[4], (-.655, .529), (-54, 302), [-.6, -.3, 0, .3], '%.1f', [0, 100, 200, 300], V4_POS, V4_NEG, V4_BP, V4_BN, tp=(.88, .97), tn=(.02, .08))
for labs in VOLC_LABELS:
    for s, x, y in labs:
        T(vx(x), vy(y), s, fs=5, ha='center', color='#222222')
for lx, ly in [(712, 235), (1475, 233), (712, 758), (1475, 758), (712, 1341)]:
    T(vx(lx), vy(ly), 'log2FC', fs=5.5, color='#333333')
    a = axpx(vx(lx), vy(ly+12), vx(lx+23), vy(ly+66))
    a.imshow(np.linspace(1, 0, 128)[:, None], cmap='magma', aspect='auto', vmin=0, vmax=1); a.set_xticks([]); a.set_yticks([])
    for s in a.spines.values():
        s.set_visible(False)
    for dy, s in zip([12, 24, 38, 50, 63], ['0.6', '0.3', '0.0', '\u22120.3', '\u22120.6']):
        T(vx(lx+31), vy(ly+dy), s, fs=5, color='#333333')

# ---------- D
D_POS = [(138.6, 1004.5, 302, 1023.7, 1219), (333, 1004.5, 497, 1023.7, 1219), (528, 1004.5, 692, 1023.7, 1219),
         (141, 1244, 304, 1261.5, 1457), (335.5, 1244, 499, 1261.5, 1457)]
for i, (x0, y0, x1, y1, y2) in enumerate(D_POS):
    R(x0, y0, x1, y1, '#D9D9D9', ec='#555555', lw=.9)
    T((x0+x1)/2, (y0+y1)/2, CLUSTERS[i], fs=6.8, ha='center', color='#222222')
    ax = axpx(x0, y1, x1, y2)
    ax.bar([1, 2, 3], D_VALS[i], width=.95, color=G_COL, zorder=3)
    ax.set_xlim(.38, 3.62); ax.set_ylim(0, D_TOPS[i])
    ax.set_xticks([1, 2, 3]); ax.set_xticklabels([])
    t = D_TICKS[i]
    ax.set_yticks(t)
    ax.set_yticklabels([('%g%%' % v) if i != 4 else ('%.1f%%' % v) for v in t])
    ax.tick_params(labelsize=7, length=3, width=.7, pad=1.5, labelcolor='#555555')
    ax.grid(color='#EBEBEB', lw=.8, zorder=0); ax.set_axisbelow(True)
    for v, b in zip(D_VALS[i], [1, 2, 3]):
        ax.text(b, v+D_TOPS[i]*.008, '%.1f%%' % v, ha='center', va='bottom', fontsize=7.5)
    for s in ax.spines.values():
        s.set_color('#444444'); s.set_linewidth(.9)
for (y0, y1, s, c) in [(1261, 1278, 'nonDFUDiabetic', C_COL[0]), (1278, 1295, 'DFUnonHealer', '#ADCFE5'), (1295, 1311, 'DFUHealer', C_COL[3])]:
    R(556, y0, 573, y1, c)
    T(579, (y0+y1)/2, s, fs=7, color='#333333')

# ---------- E
def stacked(box, xl, yl, names, rows, ylab, h):
    ax = axpx(*box)
    y = np.arange(len(names))[::-1]
    left = np.zeros(len(names))
    for vals, c in zip(rows, C_COL[::-1]):
        ax.barh(y, vals, left=left, height=h, color=c, zorder=3)
        left += np.array(vals)
    ax.set_xlim(*xl); ax.set_ylim(*yl)
    ax.set_yticks(y); ax.set_yticklabels(names)
    ax.set_xticks([0, 25, 50, 75, 100]); ax.set_xticklabels(['0%', '25%', '50%', '75%', '100%'])
    ax.tick_params(labelsize=6.5, length=2.5, width=.6, pad=1.5, labelcolor='#666666')
    ax.grid(color='#EBEBEB', lw=.7, zorder=0); ax.set_axisbelow(True)
    ax.set_xlabel('Proportion', fontsize=7.5, labelpad=2, color='#333333')
    ax.set_ylabel(ylab, fontsize=7.5, labelpad=3, color='#333333')
    for s in ax.spines.values():
        s.set_color('#666666'); s.set_linewidth(.9)
stacked((792.6, 1049, 1108.7, 1195), (-4.8, 104.8), (-.6, 11.6), STATES, [E_C4, E_C3, E_C2, E_C1, E_C0], 'State', .92)
stacked((839, 1240, 1107, 1385.6), (-4.9, 104.9), (-.6, 2.6), EG_NAMES, [EG_C4, EG_C3, EG_C2, EG_C1, EG_C0], 'Group', .9)
for (tx, ty, x0, x1, ytop, lx) in [(1123, 1084.5, 1124, 1138, 1093.8, 1143), (1121, 1275.4, 1121.6, 1135.5, 1284.7, 1141)]:
    T(tx, ty, 'Cluster', fs=7.5, color='#333333')
    for i in range(5):
        R(x0, ytop+i*13.9, x1, ytop+(i+1)*13.9, C_COL[i])
        T(lx, ytop+(i+.5)*13.9, CLUSTERS[i], fs=5.8, color='#222222')

# ---------- F
ROLE_CMAP = ListedColormap(['#EAB0B5', '#E69D9A', '#CF6D6C'])
fa = axpx(1251, 1007, 1465, 1361)
fa.pcolormesh(np.arange(4), [0, .202, .399, .6, .797, 1], np.array(ROLE_VALS), cmap=ROLE_CMAP, vmin=-.25, vmax=1.75)
fa.set_ylim(1, 0); fa.axis('off')
edges = [0, .202, .399, .6, .797, 1]
for r in range(5):
    for c in range(3):
        fa.text(c+.5, (edges[r]+edges[r+1])/2, ROLE_TXT[r][c], ha='center', va='center', fontsize=11)
T(1357.6, 991, 'Role', fs=10, ha='center', color='#333333')
for x, s in zip([1295, 1366, 1437], GROUPS):
    T(x, 1368, s, fs=8.5, ha='right', va='top', rotation=60, rotation_mode='anchor', style='italic', color='#333333')
for (a, b, c) in [((1232, 1036), (1211, 1165), C_COL[4]), ((1229, 1101), (1246, 1105), C_COL[0]), ((1224, 1114), (1251, 1175), C_COL[1]), ((1222, 1129), (1240, 1264), C_COL[2]), ((1219, 1136), (1248, 1327), C_COL[3])]:
    bg.plot([a[0], b[0]], [a[1], b[1]], color=c, lw=3, solid_capstyle='butt', zorder=6)
T(1485, 1144, 'Role', fs=8, color='#333333')
for y0, y1, c, s in zip([1155, 1180, 1205], [1180, 1205, 1230], ROLE_CMAP.colors, ['0', '0.8', '1.5']):
    R(1485, y0, 1507.5, y1, c)
    T(1511, (y0+y1)/2, s, fs=7.5, color='#333333')

# ---------- G
ORRD = plt.get_cmap('OrRd')
def gene_map(box, title, tx, ty, layers, cb, ticks):
    a = umap_ax(*box)
    for u in ALL_U:
        blob(a, u, '#CDCDCD', 1, None)
    for poly, t, al in layers:
        blob(a, poly, ORRD(t), al, '.....', 3)
    T(tx, ty, title, fs=7.5, ha='center', color='#222222')
    c = axpx(*cb)
    c.imshow(np.linspace(1, 0, 128)[:, None], cmap='OrRd', aspect='auto'); c.set_xticks([]); c.set_yticks([])
    for s in c.spines.values():
        s.set_color('#999999'); s.set_linewidth(.4)
    for v, y in ticks:
        T(cb[2]+5, y, v, fs=6.5, color='#333333')
def gx(z): return 1500+z*.377
def gy(z): return 980+z*.523
def gbox(x0, y0, x1, y1): return (gx(x0), gy(y0), gx(x1), gy(y1))
gene_map(gbox(105, 95, 655, 485), 'APOE', gx(383), gy(55),
         [(U_ARM, .3, .8), (U_C0, .9, .85), (U_TAIL, .93, 1), (U_C1_RIGHT, .65, .35), (U_C2_LOW, .3, .4), (U_C3, .3, .8), (U_BRANCH, .75, .7)],
         gbox(707, 255, 741, 347), [(s, gy(y)) for s, y in zip('54321', [257, 276, 294, 313, 331])])
gene_map(gbox(845, 100, 1395, 490), 'AQP1', gx(1120), gy(60),
         [(U_ARM, .7, .7), (U_C0, .25, .7), (U_C1_TOP, .72, .85), (U_C1_MID, .65, .7), (U_C1_RIGHT, .78, .9), (U_C2_CORE, .3, .6), (U_C2_LOW, .25, .5), (U_C3, .4, .8), (U_BRANCH, .75, .7), (U_C4, .65, 1)],
         gbox(1449, 262, 1482, 355), [(s, gy(y)) for s, y in zip('321', [272, 301, 331])])
gene_map(gbox(105, 570, 655, 965), 'NR2F2', gx(380), gy(531),
         [(U_C1, .2, .55), (U_C2, .18, .55), (U_C0, .42, .75), (U_ARM, .2, .7), (U_TAIL, .85, .95), (U_BRANCH, .85, .8), (U_C3, 1.0, 1)],
         gbox(707, 733, 741, 827), [(s, gy(y)) for s, y in zip('21', [764, 799])])
gene_map(gbox(845, 570, 1395, 965), 'TNC', gx(1120), gy(531),
         [(U_ARM, .45, .7), (U_C0, .15, .4), (U_C1_TOP, .88, .9), (U_C1_MID, .65, .5), (U_C2_LOW, .72, .85), (U_C2_CORE, .9, .9), (U_BRANCH, .65, .6), (U_C3, .35, .8), (U_C4, .55, 1)],
         gbox(1449, 733, 1482, 827), [(s, gy(y)) for s, y in zip('4321', [743, 766, 788, 811])])
gene_map(gbox(105, 1115, 655, 1515), 'TNN', gx(382), gy(1078),
         [(U_C2_CORE, .15, .35), (U_C4, .88, 1)],
         gbox(707, 1281, 741, 1376), [(s, gy(y)) for s, y in zip('21', [1314, 1348])])

# ---------- H
H_NORM = TwoSlopeNorm(vmin=.05, vcenter=.125, vmax=.25)
H_CM = plt.get_cmap('PuOr_r')
for (y0, y1), v in zip([(1544.7, 1561), (1564, 1580.7), (1583, 1599), (1603, 1619), (1622, 1638)], H_AUC):
    R(678, y0, 731, y1, H_CM(H_NORM(v)))
T(704, 1655, 'C0', fs=15, ha='center')
R(757, 1543, 1363, 1646, '#EC827E')
for y, s in zip([1555, 1574, 1593, 1612, 1632], H_TERMS):
    T(759, y, s, fs=16.3, style='italic')
ca = axpx(1402, 1523, 1424, 1677)
ca.imshow(np.linspace(.25, .05, 256)[:, None], cmap='PuOr_r', norm=H_NORM, aspect='auto', extent=(0, 1, .05, .25))
ca.set_xticks([]); ca.set_yticks([.05, .1, .15, .2, .25]); ca.set_yticklabels([])
for v in [.05, .1, .15, .2, .25]:
    ca.plot([0, .2], [v, v], color='white', lw=.8); ca.plot([.8, 1], [v, v], color='white', lw=.8)
ca.set_xlim(0, 1); ca.set_ylim(.0445, .2585); ca.tick_params(length=0)
for s in ca.spines.values():
    s.set_visible(False)
T(1433, 1506, 'AUCell', fs=14, ha='center', fontweight='bold')
for y, s in zip([1528, 1565, 1602, 1637, 1674], ['0.25', '0.2', '0.15', '0.1', '0.05']):
    T(1431, y, s, fs=14)

# ---------- I
def violins(box, xl, yl, yt, prof, med, title):
    ax = axpx(*box)
    ax.set_xlim(*xl); ax.set_ylim(*yl)
    for i in range(5):
        ax.axvspan(i+.5 if i else xl[0], i+1.5 if i < 4 else xl[1], color=BAND[i], lw=0, zorder=0)
        p = np.array(prof[i])
        ax.fill_betweenx(p[:, 0], i+1-p[:, 1], i+1+p[:, 1], facecolor=C_COL[i], edgecolor='#333333', lw=.7, zorder=3)
        ax.plot([i+.94, i+1.06], [med[i], med[i]], color='black', lw=1.5, zorder=4, solid_capstyle='butt')
    for v in yt:
        ax.axhline(v, color='#B5B5B5', lw=.8, ls='--', zorder=1)
    ax.set_xticks([1, 2, 3, 4, 5]); ax.set_xticklabels([])
    ax.set_yticks(yt)
    ax.tick_params(axis='y', labelsize=8, length=2, width=.6, pad=2)
    ax.tick_params(axis='x', length=1.5, width=.4, color='#999999')
    ax.set_ylabel('Expression level', fontsize=7.5, labelpad=2)
    ax.set_title(title, fontsize=7.5, pad=2)
    for s in ax.spines.values():
        s.set_color('#222222'); s.set_linewidth(.9)
violins((160, 1770, 709, 2133), (.404, 5.6), (31, 6256), [2000, 4000, 6000], F_V, F_MED, 'nFeature_RNA')
violins((167, 2224, 710, 2589), (.403, 5.6), (-1826, 51043), [0, 10000, 20000, 30000, 40000, 50000], N_V, N_MED, 'nCount_RNA')
for y, xs in [(2164, [218, 326, 431, 543, 643]), (2620, [221, 329, 434, 546, 646])]:
    for x, s in zip(xs, ['C0', 'C1', 'C2', 'C3', 'C4']):
        T(x, y, s, fs=33, ha='center', family='Liberation Serif')

# ---------- J
ja = axpx(1286.7, 1786, 2027, 2592)
ja.set_xlim(-1.355, 28.86); ja.set_ylim(.43, 19.585)
ja.axvline(1.32, color='#888888', lw=1.4, ls=(0, (4, 3)), zorder=6)
for i in range(19):
    row = i+1
    for end, n, cl in zip(J_END[i], J_N[i], J_CL[i]):
        rgb = matplotlib.colors.to_rgb(C_COL[cl])
        img = np.zeros((2, 200, 4)); img[..., :3] = rgb
        img[..., 3] = np.linspace(.12, 1, 200)
        im = ja.imshow(img, extent=(0, end, row-.33, row+.33), aspect='auto', zorder=3, interpolation='bilinear')
        t = np.linspace(0, 1, 60)
        hh = .3*t**.42
        poly = np.r_[np.c_[end*t, row+hh], np.c_[end*t[::-1], row-hh[::-1]]]
        im.set_clip_path(Polygon(poly, transform=ja.transData))
    for end, n in zip(J_END[i], J_N[i]):
        ja.scatter([end], [row], s=390, facecolor='white', edgecolor='black', lw=1.2, zorder=7)
        ja.text(end, row, str(n), ha='center', va='center', fontsize=10, zorder=8)
ja.set_xlim(-1.355, 28.86); ja.set_ylim(.43, 19.585)
ja.set_yticks(np.arange(1, 20)); ja.set_yticklabels(J_TERMS)
ja.set_xticks([0, 10, 20])
ja.tick_params(axis='y', labelsize=12.7, length=4, width=1.4, pad=3)
ja.tick_params(axis='x', labelsize=14.5, length=4, width=1.4, pad=3)
ja.set_xlabel('\u2212Log10(P\u2212value)', fontsize=15, labelpad=3)
for s in ['top', 'right']:
    ja.spines[s].set_visible(False)
for s in ['left', 'bottom']:
    ja.spines[s].set_linewidth(1.6)

# ---------- panel letters
for s, x, y in [('A', 12, 42), ('B', 938, 46), ('C', 1421, 46), ('D', 8, 1005), ('E', 812, 1003), ('F', 1210, 1003), ('G', 1524, 1003), ('H', 575, 1572), ('I', 10, 1786), ('J', 848, 1781)]:
    T(x, y, s, fs=50, family='Open Sans')

fig.savefig('out.png', dpi=100)
